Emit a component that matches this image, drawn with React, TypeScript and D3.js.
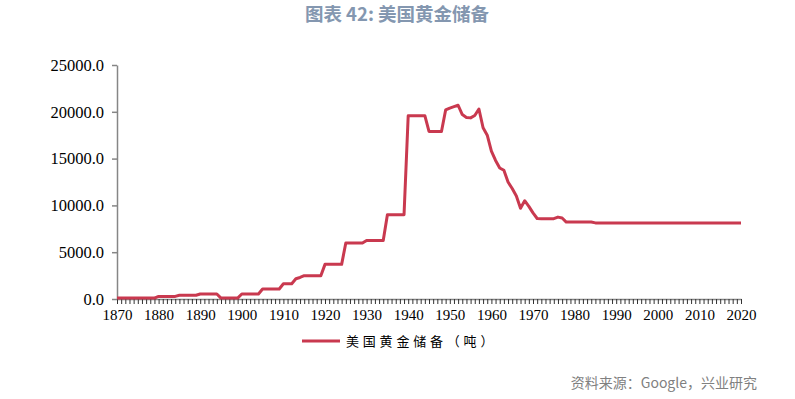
import React, { useEffect, useRef } from "react";
import * as d3 from "d3";

// 年份 1870-2020
const years: number[] = d3.range(1870, 2021);

// 美国黄金储备（吨），按年代读图估计
const reserves: number[] = [
  // 1870s
  100, 100, 100, 100, 100, 100, 100, 100, 100, 100,
  // 1880s
  280, 280, 280, 280, 280, 400, 400, 400, 400, 400,
  // 1890s
  540, 540, 540, 540, 540, 100, 100, 100, 100, 100,
  // 1900s
  540, 540, 540, 540, 540, 1070, 1070, 1070, 1070, 1070,
  // 1910s
  1630, 1630, 1630, 2170, 2300, 2490, 2490, 2490, 2490, 2490,
  // 1920s
  3700, 3700, 3700, 3700, 3700, 5980, 5980, 5980, 5980, 5980,
  // 1930s
  6260, 6260, 6260, 6260, 6260, 9000, 9000, 9000, 9000, 9000,
  // 1940s
  19580, 19580, 19580, 19580, 19580, 17900, 17900, 17900, 17900, 20200,
  // 1950s
  20400, 20550, 20700, 19700, 19400, 19350, 19600, 20300, 18300, 17500,
  // 1960s
  15800, 14800, 14000, 13750, 12500, 11800, 11000, 9700, 10500, 9900,
  // 1970s
  9200, 8600, 8580, 8580, 8580, 8580, 8750, 8650, 8220, 8220,
  // 1980s
  8220, 8220, 8220, 8220, 8220, 8133, 8133, 8133, 8133, 8133,
  // 1990s
  8133, 8133, 8133, 8133, 8133, 8133, 8133, 8133, 8133, 8133,
  // 2000s
  8133, 8133, 8133, 8133, 8133, 8133, 8133, 8133, 8133, 8133,
  // 2010s
  8133, 8133, 8133, 8133, 8133, 8133, 8133, 8133, 8133, 8133,
  // 2020
  8133,
];

const yTicks: number[] = [0, 5000, 10000, 15000, 20000, 25000];
const xLabelYears: number[] = d3.range(1870, 2021, 10);

const title = "图表 42: 美国黄金储备";
const seriesName = "美国黄金储备（吨）";
const source = "资料来源：Google，兴业研究";

const LINE_COLOR = "#C9394F";

const App = () => {
  const ref = useRef<SVGSVGElement | null>(null);

  useEffect(() => {
    const width = 795;
    const height = 399;
    const margin = { top: 65, right: 54, bottom: 100, left: 117 };

    const svg = d3.select(ref.current);
    svg.selectAll("*").remove();

    const x = d3
      .scaleLinear()
      .domain([1870, 2020])
      .range([margin.left, width - margin.right]);

    const y = d3
      .scaleLinear()
      .domain([0, 25000])
      .range([height - margin.bottom, margin.top]);

    // Title
    svg
      .append("text")
      .attr("x", 397)
      .attr("y", 21)
      .attr("text-anchor", "middle")
      .attr("fill", "#8497B0")
      .style("font-family", "'Noto Sans CJK SC', sans-serif")
      .style("font-weight", "bold")
      .style("font-size", "18.5px")
      .text(title);

    // Y axis
    const yAxis = svg
      .append("g")
      .attr("transform", `translate(${margin.left},0)`)
      .call(
        d3
          .axisLeft(y)
          .tickValues(yTicks)
          .tickFormat(d3.format(".1f"))
          .tickSize(5)
          .tickSizeOuter(0)
      );
    yAxis.select(".domain").attr("stroke", "#868686").attr("stroke-width", 1.5);
    yAxis.selectAll(".tick line").attr("stroke", "#868686").attr("stroke-width", 1.5);
    yAxis
      .selectAll(".tick text")
      .attr("x", -13)
      .attr("fill", "#000")
      .style("font-family", "'Liberation Serif', 'Times New Roman', serif")
      .style("font-size", "16.5px");

    // X axis
    const xAxis = svg
      .append("g")
      .attr("transform", `translate(0,${y(0)})`)
      .call(
        d3
          .axisBottom(x)
          .tickValues(years)
          .tickFormat((d) => (xLabelYears.includes(+d) ? String(d) : ""))
          .tickSize(5)
          .tickSizeOuter(0)
      );
    xAxis.select(".domain").attr("stroke", "#868686").attr("stroke-width", 1.5);
    xAxis.selectAll(".tick line").attr("stroke", "#333");
    xAxis
      .selectAll(".tick text")
      .attr("y", 10)
      .attr("fill", "#000")
      .style("font-family", "'Liberation Serif', 'Times New Roman', serif")
      .style("font-size", "15px");

    // Line
    const line = d3
      .line<number>()
      .x((_, i) => x(years[i]))
      .y((d) => y(d));

    svg
      .append("path")
      .datum(reserves)
      .attr("fill", "none")
      .attr("stroke", LINE_COLOR)
      .attr("stroke-width", 3)
      .attr("stroke-linejoin", "round")
      .attr("d", line);

    // Legend
    svg
      .append("line")
      .attr("x1", 302)
      .attr("x2", 340)
      .attr("y1", 341)
      .attr("y2", 341)
      .attr("stroke", LINE_COLOR)
      .attr("stroke-width", 3);
    svg
      .append("text")
      .attr("x", 346)
      .attr("y", 346)
      .attr("fill", "#000")
      .style("font-family", "'Noto Sans CJK SC', sans-serif")
      .style("font-size", "13px")
      .style("letter-spacing", "3.8px")
      .text(seriesName);

    // Source
    svg
      .append("text")
      .attr("x", 757)
      .attr("y", 388)
      .attr("text-anchor", "end")
      .attr("fill", "#808080")
      .style("font-family", "'Noto Sans CJK SC', sans-serif")
      .style("font-size", "14px")
      .text(source);
  }, []);

  return (
    <svg
      ref={ref}
      width={795}
      height={399}
      style={{ position: "absolute", left: 0, top: 0, background: "#fff" }}
    />
  );
};

export default App;
